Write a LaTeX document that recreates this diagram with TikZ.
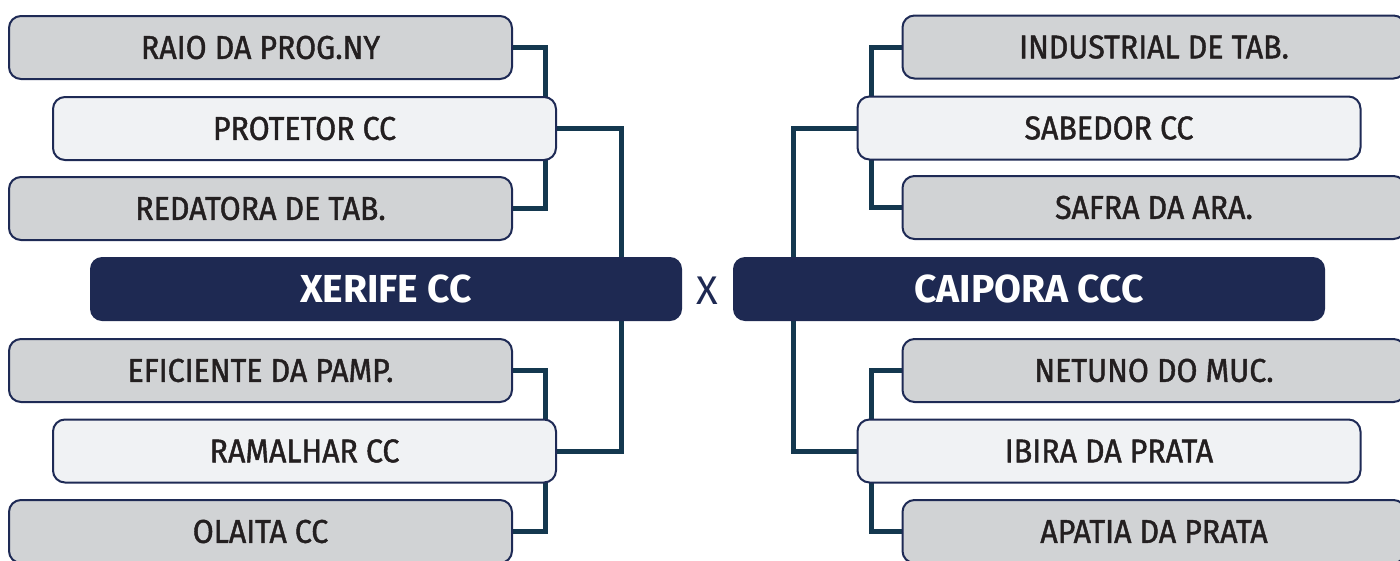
\documentclass[tikz,border=0pt]{standalone}
\usepackage{fontspec}
\setmainfont{Fira Sans}
\newfontfamily\lblfont{Fira Sans}[FakeStretch=0.92, FakeBold=1.3]
\usetikzlibrary{backgrounds}
\definecolor{navy}{HTML}{1E2952}
\definecolor{edge}{HTML}{1E2A55}
\definecolor{wire}{HTML}{14384F}
\definecolor{grayfill}{HTML}{D1D3D5}
\definecolor{lightfill}{HTML}{F0F2F4}
\definecolor{ink}{HTML}{231F20}
\tikzset{
  teambox/.style={draw=edge, line width=2pt, rounded corners=12pt, minimum width=503pt,
    minimum height=63pt, inner sep=0pt, text=ink, font=\lblfont\fontsize{33}{33}\selectfont},
  grayteam/.style={teambox, fill=grayfill},
  lightteam/.style={teambox, fill=lightfill},
  finalbox/.style={fill=navy, rounded corners=12pt, minimum width=592pt, minimum height=64pt,
    inner sep=0pt, text=white, font=\fontsize{39}{39}\selectfont\bfseries},
  wireline/.style={draw=wire, line width=5pt}
}
\begin{document}
\begin{tikzpicture}[x=1pt,y=-1pt]
\useasboundingbox (0,0) rectangle (1400,560);
% left side
\node[grayteam]  (raio)      at (260.5,47.5)  {RAIO DA PROG.NY};
\node[lightteam] (protetor)  at (304.5,128.5) {PROTETOR CC};
\node[grayteam]  (redatora)  at (260.5,208.5) {REDATORA DE TAB.};
\node[finalbox]  (xerife)    at (386,289)     {XERIFE CC};
\node[grayteam]  (eficiente) at (260.5,370.5) {EFICIENTE DA PAMP.};
\node[lightteam] (ramalhar)  at (304.5,451)   {RAMALHAR CC};
\node[grayteam]  (olaita)    at (260.5,531.5) {OLAITA CC};
% right side
\node[grayteam]  (industrial) at (1154,47)    {INDUSTRIAL DE TAB.};
\node[lightteam] (sabedor)    at (1109,128)   {SABEDOR CC};
\node[grayteam]  (safra)      at (1154,207.5) {SAFRA DA ARA.};
\node[finalbox]  (caipora)    at (1029,289)   {CAIPORA CCC};
\node[grayteam]  (netuno)     at (1154,370.5) {NETUNO DO MUC.};
\node[lightteam] (ibira)      at (1109,451)   {IBIRA DA PRATA};
\node[grayteam]  (apatia)     at (1154,531.5) {APATIA DA PRATA};
% versus
\node[text=navy, font=\fontsize{40}{40}\selectfont] (vs) at (707.5,291) {X};
\begin{scope}[on background layer]
  \draw[wireline] (raio.east) -- ++(32,0) |- (redatora.east);
  \draw[wireline] (protetor.east) -- ++(64,0) coordinate (m1) -- (m1 |- xerife.north);
  \draw[wireline] (eficiente.east) -- ++(32,0) |- (olaita.east);
  \draw[wireline] (ramalhar.east) -- ++(64,0) coordinate (m2) -- (m2 |- xerife.south);
  \draw[wireline] (industrial.west) -- ++(-30,0) |- (safra.west);
  \draw[wireline] (sabedor.west) -- ++(-63,0) coordinate (m3) -- (m3 |- caipora.north);
  \draw[wireline] (netuno.west) -- ++(-30,0) |- (apatia.west);
  \draw[wireline] (ibira.west) -- ++(-63,0) coordinate (m4) -- (m4 |- caipora.south);
\end{scope}
\end{tikzpicture}
\end{document}
